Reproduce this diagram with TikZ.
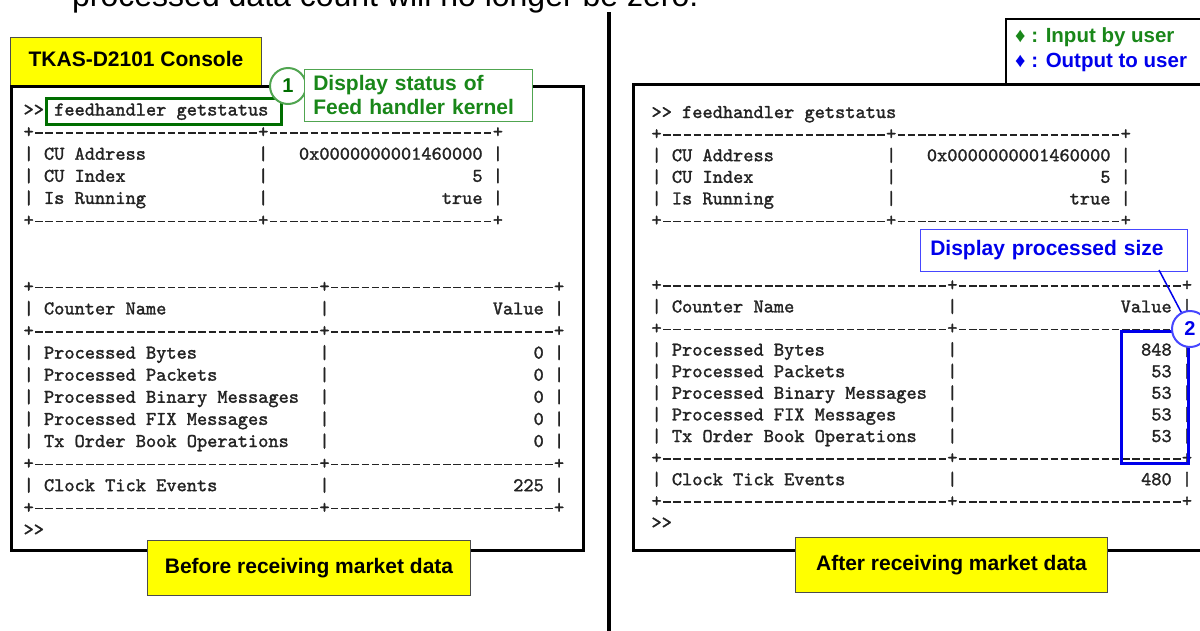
\documentclass[tikz,border=0pt]{standalone}
\usepackage{fontspec}
\newfontfamily\lsans{Liberation Sans}
\newfontfamily\cons{lmmono10-regular}[Extension=.otf, FakeBold=1.5]
\definecolor{congray}{RGB}{35,35,35}
\definecolor{dgreen}{RGB}{0,110,0}
\definecolor{lgreen}{RGB}{80,165,80}
\definecolor{tgreen}{RGB}{25,135,25}
\definecolor{bblue}{RGB}{0,0,235}
\definecolor{lblue}{RGB}{70,70,255}
\definecolor{yel}{RGB}{255,255,0}
\tikzset{
  ct/.style={font=\cons\fontsize{19.43}{22}\selectfont, text=congray, inner sep=0pt, outer sep=0pt, anchor=base west},
  cte/.style={ct, anchor=base east},
  dashln/.style={draw=congray, line width=1.5pt, dash pattern=on 7.4pt off 2.8pt, dash phase=8.8pt},
  ybox/.style={draw=black!70, line width=1.2pt, fill=yel, font=\lsans\bfseries\fontsize{21}{24}\selectfont, inner sep=0pt, outer sep=0pt, anchor=north west},
  consbox/.style={draw=black, line width=3pt, fill=white, inner sep=0pt, outer sep=0pt, anchor=north west},
  lab/.style={font=\lsans\bfseries\fontsize{21}{24}\selectfont, inner sep=0pt},
  numcirc/.style={circle, line width=2pt, fill=white, minimum size=36pt, inner sep=0pt, font=\lsans\bfseries\fontsize{20}{20}\selectfont},
}
% #1 prefix, #2 x0, #3 y of command line, #4 line pitch, #5 bytes, #6 other counters, #7 clock ticks
\newcommand\drawconsole[7]{%
  \pgfmathsetmacro\xo{#2}\pgfmathsetmacro\yo{#3}\pgfmathsetmacro\pit{#4}%
  \node[ct] (#1-p0) at ({\xo},{\yo+5.5}) {>{}>};
  \node[ct] (#1-cmd) at ({\xo+3*10.2},{\yo+5.5}) {feedhandler getstatus};
  \foreach \k/\m/\e in {1/23/46,5/23/46,8/29/52,10/29/52,16/29/52,18/29/52}{
    \foreach \p in {0,\m,\e}{
      \node[ct] (#1-pl\k-\p) at ({\xo+\p*10.2},{\yo+\k*\pit+5.5}) {+};
    }
    \draw[dashln] ([yshift=4.7pt]#1-pl\k-0.base east) -- ([yshift=4.7pt]#1-pl\k-\m.base west);
    \draw[dashln] ([yshift=4.7pt]#1-pl\k-\m.base east) -- ([yshift=4.7pt]#1-pl\k-\e.base west);
  }
  \foreach \k in {2,3,4}{
    \foreach \p in {0,23,46}{
      \node[ct] (#1-bt\k-\p) at ({\xo+\p*10.2},{\yo+\k*\pit+5.5}) {|};
    }
  }
  \foreach \k in {9,11,12,13,14,15,17}{
    \foreach \p in {0,29,52}{
      \node[ct] (#1-bt\k-\p) at ({\xo+\p*10.2},{\yo+\k*\pit+5.5}) {|};
    }
  }
  \foreach \k/\lab/\val in {2/CU Address/0x0000000001460000,3/CU Index/5,4/Is Running/true}{
    \node[ct] (#1-l\k) at ({\xo+2*10.2},{\yo+\k*\pit+5.5}) {\lab};
    \node[cte] (#1-v\k) at ({\xo+45*10.2},{\yo+\k*\pit+5.5}) {\val};
  }
  \foreach \k/\lab/\val in {9/Counter Name/Value,11/Processed Bytes/#5,12/Processed Packets/#6,13/Processed Binary Messages/#6,14/Processed FIX Messages/#6,15/Tx Order Book Operations/#6,17/Clock Tick Events/#7}{
    \node[ct] (#1-l\k) at ({\xo+2*10.2},{\yo+\k*\pit+5.5}) {\lab};
    \node[cte] (#1-v\k) at ({\xo+51*10.2},{\yo+\k*\pit+5.5}) {\val};
  }
  \node[ct] (#1-p19) at ({\xo},{\yo+19*\pit+5.5}) {>{}>};
}
\begin{document}
\begin{tikzpicture}[x=1pt,y=-1pt]
\useasboundingbox (0,0) rectangle (1200,630);
\clip (0,0) rectangle (1200,630);
\fill[white] (0,0) rectangle (1200,630);
% heading fragment
\node[font=\lsans\fontsize{32}{32}\selectfont, inner sep=0pt, anchor=base west] (heading) at (72,6.5) {processed data count will no longer be zero.};
% divider
\draw[line width=4pt] (609,12) -- (609,640);
% left panel
\node[ybox, minimum width=251pt, minimum height=48pt] (title) at (10.5,37.5) {};
\node[lab, text=black] (titletext) at (136,59) {TKAS-D2101 Console};
\node[consbox, minimum width=572pt, minimum height=464pt] (lcons) at (11.5,86.5) {};
\drawconsole{L}{23.6}{110}{22.1}{0}{0}{225}
\node[draw=dgreen, line width=3pt, inner sep=0pt, minimum width=235pt, minimum height=26pt, anchor=north west] (cmdbox) at (45,97) {};
\node[numcirc, draw=lgreen, text=dgreen] (c1) at (288,86) {1};
\node[lab, draw=lgreen, line width=1.5pt, fill=white, text=tgreen, text width=210pt, align=left, inner xsep=9pt, inner ysep=0pt, minimum height=52pt, anchor=north west] (call1) at (303.5,68.5) {Display status of\\Feed handler kernel};
\node[ybox, minimum width=323pt, minimum height=55pt] (before) at (147.5,540.5) {Before receiving market data};
% right panel
\node[draw=black, line width=1.5pt, fill=white, anchor=north west, minimum width=220pt, minimum height=66pt, inner sep=0pt] (legend) at (1005,18) {};
\node[lab, anchor=west, text=tgreen, font=\lsans\bfseries\fontsize{20.5}{24}\selectfont] (leg1) at (1015,37) {♦ : Input by user};
\node[lab, anchor=west, text=bblue, font=\lsans\bfseries\fontsize{20.5}{24}\selectfont] (leg2) at (1015,62) {♦ : Output to user};
\node[consbox, minimum width=600pt, minimum height=466pt] (rcons) at (633.5,84.5) {};
\drawconsole{R}{651.5}{112.5}{21.6}{848}{53}{480}
\node[lab, draw=lblue, line width=1.5pt, fill=white, text=bblue, text width=247pt, align=left, inner xsep=10pt, inner ysep=0pt, minimum height=42pt, anchor=north west] (call2) at (919.5,228.5) {Display processed size};
\node[draw=bblue, line width=3pt, minimum width=67pt, minimum height=132pt, inner sep=0pt, anchor=north west] (vrect) at (1119.5,329.5) {};
\coordinate (c2src) at (1159,270);
\node[numcirc, draw=lblue, text=bblue] (c2) at (1190,329) {2};
\draw[draw=bblue, line width=1.5pt] (c2src) -- (c2);
\node[ybox, minimum width=312pt, minimum height=55pt] (after) at (795.5,537.5) {After receiving market data};
\end{tikzpicture}
\end{document}
